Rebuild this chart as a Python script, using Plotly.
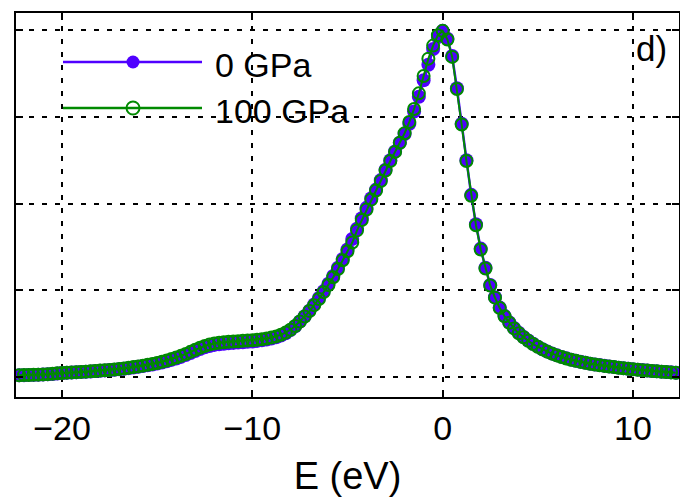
import plotly.graph_objects as go

# Energy grid (eV)
energy = [
    -22.25, -22.0, -21.75, -21.5, -21.25, -21.0, -20.75, -20.5, -20.25, -20.0,
    -19.75, -19.5, -19.25, -19.0, -18.75, -18.5, -18.25, -18.0, -17.75, -17.5,
    -17.25, -17.0, -16.75, -16.5, -16.25, -16.0, -15.75, -15.5, -15.25, -15.0,
    -14.75, -14.5, -14.25, -14.0, -13.75, -13.5, -13.25, -13.0, -12.75, -12.5,
    -12.25, -12.0, -11.75, -11.5, -11.25, -11.0, -10.75, -10.5, -10.25, -10.0,
    -9.75, -9.5, -9.25, -9.0, -8.75, -8.5, -8.25, -8.0, -7.75, -7.5,
    -7.25, -7.0, -6.75, -6.5, -6.25, -6.0, -5.75, -5.5, -5.25, -5.0,
    -4.75, -4.5, -4.25, -4.0, -3.75, -3.5, -3.25, -3.0, -2.75, -2.5,
    -2.25, -2.0, -1.75, -1.5, -1.25, -1.0, -0.75, -0.5, -0.25, 0.0,
    0.25, 0.5, 0.75, 1.0, 1.25, 1.5, 1.75, 2.0, 2.25, 2.5,
    2.75, 3.0, 3.25, 3.5, 3.75, 4.0, 4.25, 4.5, 4.75, 5.0,
    5.25, 5.5, 5.75, 6.0, 6.25, 6.5, 6.75, 7.0, 7.25, 7.5,
    7.75, 8.0, 8.25, 8.5, 8.75, 9.0, 9.25, 9.5, 9.75, 10.0,
    10.25, 10.5, 10.75, 11.0, 11.25, 11.5, 11.75, 12.0, 12.25,
]

# 0 GPa
dos_0gpa = [
    0.020, 0.021, 0.022, 0.024, 0.026, 0.028, 0.031, 0.035, 0.040, 0.045,
    0.048, 0.051, 0.054, 0.057, 0.060, 0.064, 0.068, 0.072, 0.076, 0.080,
    0.084, 0.089, 0.095, 0.102, 0.110, 0.118, 0.126, 0.135, 0.145, 0.155,
    0.168, 0.182, 0.197, 0.213, 0.232, 0.253, 0.276, 0.300, 0.322, 0.342,
    0.358, 0.370, 0.378, 0.384, 0.389, 0.393, 0.397, 0.401, 0.405, 0.410,
    0.416, 0.423, 0.432, 0.443, 0.458, 0.478, 0.505, 0.540, 0.585, 0.640,
    0.700, 0.765, 0.835, 0.910, 0.990, 1.075, 1.165, 1.260, 1.360, 1.470,
    1.590, 1.710, 1.830, 1.950, 2.060, 2.160, 2.270, 2.390, 2.500, 2.600,
    2.700, 2.800, 2.920, 3.060, 3.230, 3.420, 3.600, 3.780, 3.920, 3.990,
    3.900, 3.700, 3.330, 2.920, 2.500, 2.100, 1.760, 1.480, 1.260, 1.060,
    0.920, 0.800, 0.705, 0.630, 0.565, 0.510, 0.462, 0.420, 0.383, 0.350,
    0.320, 0.293, 0.270, 0.250, 0.232, 0.215, 0.200, 0.187, 0.175, 0.164,
    0.154, 0.145, 0.137, 0.129, 0.122, 0.115, 0.108, 0.102, 0.096, 0.090,
    0.085, 0.080, 0.075, 0.070, 0.066, 0.062, 0.058, 0.054, 0.050,
]

# 100 GPa
dos_100gpa = [
    0.021, 0.022, 0.023, 0.025, 0.027, 0.030, 0.033, 0.037, 0.042, 0.047,
    0.050, 0.053, 0.056, 0.059, 0.062, 0.066, 0.070, 0.074, 0.078, 0.082,
    0.087, 0.092, 0.098, 0.106, 0.114, 0.122, 0.131, 0.141, 0.151, 0.162,
    0.176, 0.191, 0.207, 0.224, 0.244, 0.266, 0.290, 0.315, 0.338, 0.358,
    0.374, 0.386, 0.394, 0.400, 0.405, 0.409, 0.413, 0.417, 0.421, 0.425,
    0.430, 0.436, 0.444, 0.454, 0.468, 0.487, 0.512, 0.545, 0.588, 0.640,
    0.698, 0.760, 0.828, 0.900, 0.978, 1.060, 1.150, 1.245, 1.345, 1.450,
    1.550, 1.690, 1.810, 1.930, 2.045, 2.150, 2.260, 2.380, 2.490, 2.595,
    2.700, 2.810, 2.940, 3.090, 3.270, 3.470, 3.670, 3.820, 3.940, 3.990,
    3.890, 3.690, 3.320, 2.910, 2.490, 2.090, 1.750, 1.470, 1.250, 1.055,
    0.915, 0.795, 0.700, 0.625, 0.560, 0.505, 0.458, 0.417, 0.380, 0.348,
    0.318, 0.292, 0.269, 0.249, 0.231, 0.214, 0.199, 0.186, 0.174, 0.163,
    0.153, 0.144, 0.136, 0.128, 0.121, 0.114, 0.107, 0.101, 0.095, 0.089,
    0.084, 0.079, 0.074, 0.069, 0.065, 0.061, 0.057, 0.053, 0.049,
]

series_names = ["0 GPa", "100 GPa"]
blue = "#5000ff"
green = "#008a00"
x_ticks = [-20, -10, 0, 10]
y_grid = [0, 1, 2, 3, 4]

fig = go.Figure()
fig.add_trace(go.Scatter(
    x=energy, y=dos_0gpa, mode="lines+markers", name=series_names[0],
    line=dict(color=blue, width=2.5),
    marker=dict(symbol="circle", size=14, color=blue, line=dict(width=0)),
    showlegend=False,
))
fig.add_trace(go.Scatter(
    x=energy, y=dos_100gpa, mode="lines+markers", name=series_names[1],
    line=dict(color=green, width=2),
    marker=dict(symbol="circle-open", size=12, color=green, line=dict(width=2)),
    showlegend=False,
))

W, H = 680, 499
ml, mr, mt, mb = 16, 1, 13, 102
pw, ph = W - ml - mr, H - mt - mb


def px(xp):
    return (xp - ml) / pw


def py(yp):
    return (H - mb - yp) / ph


font_family = "Liberation Sans, Arial, sans-serif"

shapes = []
annotations = []
legend_rows = [(series_names[0], blue, 62, True), (series_names[1], green, 108, False)]
for name, col, yy, filled in legend_rows:
    shapes.append(dict(type="line", xref="paper", yref="paper",
                       x0=px(63), x1=px(202), y0=py(yy), y1=py(yy),
                       line=dict(color=col, width=2.5)))
    shapes.append(dict(type="circle", xref="paper", yref="paper",
                       xsizemode="pixel", ysizemode="pixel",
                       xanchor=px(133), yanchor=py(yy),
                       x0=-6.5, x1=6.5, y0=-6.5, y1=6.5,
                       fillcolor=col if filled else "rgba(0,0,0,0)",
                       line=dict(color=col, width=0 if filled else 2)))
    annotations.append(dict(text=name, xref="paper", yref="paper",
                            x=px(213), y=py(yy + 3), xanchor="left", yanchor="middle",
                            showarrow=False, font=dict(size=34, color="black", family=font_family)))

annotations.append(dict(text="d)", xref="paper", yref="paper",
                        x=px(669), y=py(48), xanchor="right", yanchor="middle",
                        showarrow=False, font=dict(size=35, color="black", family=font_family)))

fig.update_layout(
    width=W, height=H,
    margin=dict(l=ml, r=mr, t=mt, b=mb, pad=0),
    plot_bgcolor="white", paper_bgcolor="white",
    font=dict(family=font_family, color="black"),
    shapes=shapes, annotations=annotations,
    hovermode=False,
    xaxis=dict(
        range=[-22.42, 12.42], tickvals=x_ticks,
        ticktext=["\u221220", "\u221210", "0", "10"],
        ticks="inside", ticklen=7, tickwidth=2, tickcolor="black",
        showline=True, linewidth=2, linecolor="black", mirror="allticks",
        showgrid=True, gridcolor="black", gridwidth=2, griddash="5px,8px",
        zeroline=False, tickfont=dict(size=34, family=font_family),
        ticklabelstandoff=0,
        title=dict(text="E (eV)", font=dict(size=38, family=font_family), standoff=17),
        automargin=False,
    ),
    yaxis=dict(
        range=[-0.2305, 4.196], tickvals=y_grid, showticklabels=False,
        ticks="inside", ticklen=7, tickwidth=2, tickcolor="black",
        showline=True, linewidth=2, linecolor="black", mirror="allticks",
        showgrid=True, gridcolor="black", gridwidth=2, griddash="5px,8px",
        zeroline=False, automargin=False,
    ),
)

fig.write_html("out.html", config={"displayModeBar": False},
               post_script="document.body.style.margin='0';")
